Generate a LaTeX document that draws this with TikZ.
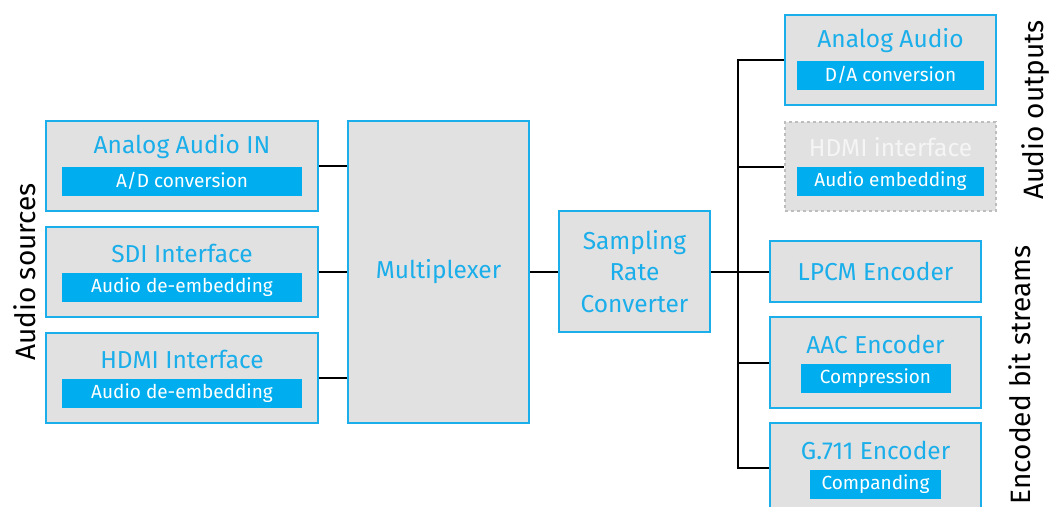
\documentclass[tikz,border=0pt]{standalone}
\usepackage{fontspec}
\setmainfont{Fira Sans}
\usetikzlibrary{positioning}

\definecolor{boxcyan}{HTML}{1AAEEA}
\definecolor{barcyan}{HTML}{00AEEF}
\definecolor{boxgray}{HTML}{E1E1E1}
\definecolor{dashgray}{HTML}{BDBDBD}

\tikzset{
  block/.style={draw=boxcyan, line width=2.5pt, fill=boxgray, inner sep=0pt,
    minimum width=#1},
  block/.default=211pt,
  ghost/.style={draw=dashgray, dashed, line width=2pt, fill=boxgray, inner sep=0pt,
    minimum width=211pt, minimum height=89pt},
  title/.style={text=boxcyan, font=\fontsize{24.5}{31.5}\selectfont, align=center, inner sep=0pt},
  bar/.style={fill=barcyan, text=white, font=\fontsize{19}{22}\selectfont,
    minimum height=29pt, inner sep=0pt, minimum width=#1},
  link/.style={line width=2pt, black},
  side/.style={rotate=90, font=\fontsize{28}{32}\selectfont, inner sep=0pt}
}

\begin{document}
\begin{tikzpicture}[x=1pt, y=-1pt]
\useasboundingbox (0,0) rectangle (1051,506);

% Audio sources
\node[block=272pt, minimum height=90pt] (ain) at (182,166) {};
\node[title] (aintitle) at (182,147) {Analog Audio IN};
\node[bar=240pt] (ainbar) at (182,181) {A/D conversion};

\node[block=272pt, minimum height=90pt] (sdi) at (182,272) {};
\node[title] (sditext) at (182,253) {SDI Interface};
\node[bar=240pt] (sdibar) at (182,287) {Audio de-embedding};

\node[block=272pt, minimum height=90pt] (hdmiin) at (182,378) {};
\node[title] (hdmiintitle) at (182,359) {HDMI Interface};
\node[bar=240pt] (hdmiinbar) at (182,393) {Audio de-embedding};

% Multiplexer and rate converter
\node[block=181pt, minimum height=302pt] (mux) at (438.5,272) {};
\node[title] at (mux) {Multiplexer};
\node[block=151pt, minimum height=121pt] (src) at (634.5,271.5) {};
\node[title] at (src) {Sampling\\Rate\\Converter};

% Audio outputs
\node[block, minimum height=90pt] (aout) at (890.5,60) {};
\node[title] (aouttitle) at (890.5,41) {Analog Audio};
\node[bar=187pt] (aoutbar) at (890.5,75) {D/A conversion};

\node[ghost] (hdmiout) at (890.5,166.5) {};
\node[title, text=white!96!black] (hdmiouttitle) at (890.5,147) {HDMI interface};
\node[bar=187pt] (hdmioutbar) at (890.5,181) {Audio embedding};

% Encoders
\node[block, minimum height=61pt] (lpcm) at (875.5,271.5) {};
\node[title] at (lpcm) {LPCM Encoder};

\node[block, minimum height=91pt] (aac) at (875.5,362.5) {};
\node[title] (aactitle) at (875.5,344) {AAC Encoder};
\node[bar=150pt] (aacbar) at (875.5,378) {Compression};

\node[block, minimum height=90pt] (g711) at (875.5,468) {};
\node[title] (g711title) at (875.5,450) {G.711 Encoder};
\node[bar=131pt] (g711bar) at (875.5,484) {Companding};

% Side labels
\node[side] (srclabel) at (25,272) {Audio sources};
\node[side] (outlabel) at (1036,110) {Audio outputs};
\node[side, anchor=east] (enclabel) at (1020,245) {Encoded bit streams};

% Connectors
\coordinate (bus) at (738,271.5);
\draw[link] (ain.east) -- (ain.east -| mux.west);
\draw[link] (sdi.east) -- (sdi.east -| mux.west);
\draw[link] (hdmiin.east) -- (hdmiin.east -| mux.west);
\draw[link] (mux.east |- src.west) -- (src.west);
\draw[link] (src.east) -- (lpcm.west);
\draw[link] (aout.west) -| (bus) |- (g711.west);
\draw[link] (hdmiout.west) -- (hdmiout.west -| bus);
\draw[link] (aac.west) -- (aac.west -| bus);
\end{tikzpicture}
\end{document}
